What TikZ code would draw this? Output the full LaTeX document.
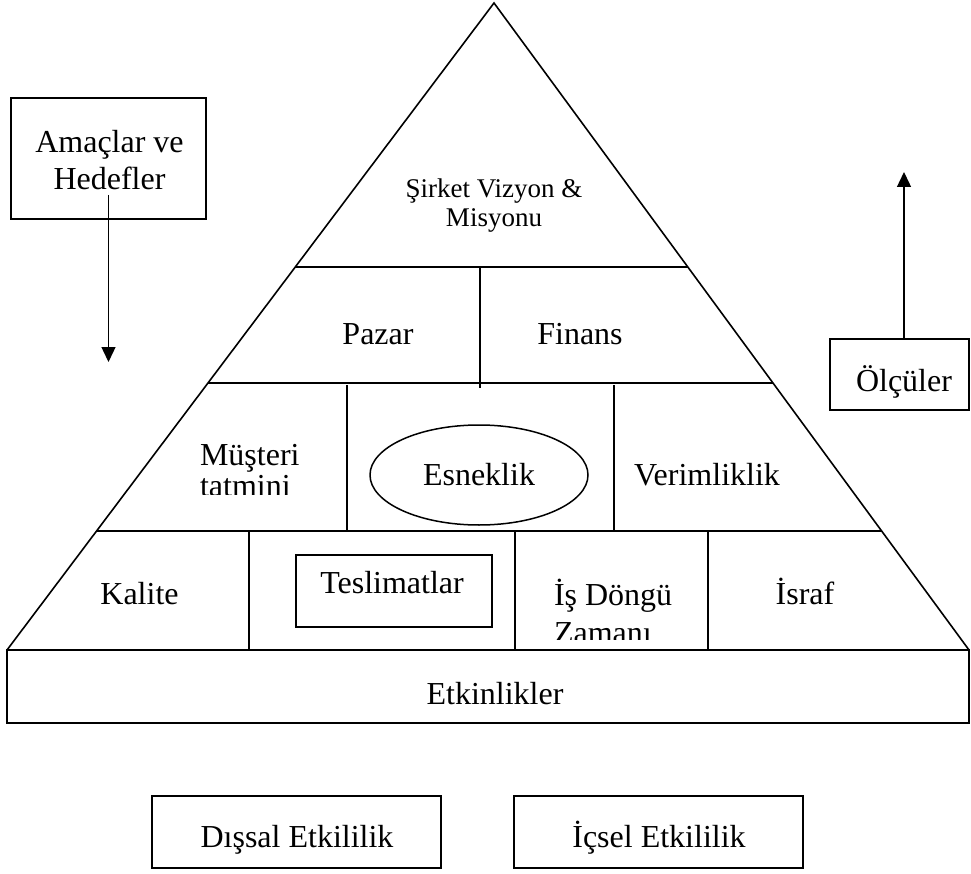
\documentclass[tikz,border=0pt]{standalone}
\usepackage{fontspec}
\setmainfont{Liberation Serif}
\usetikzlibrary{arrows.meta,calc,shapes.geometric}

\begin{document}
\begin{tikzpicture}[x=1pt,y=-1pt,
  every node/.style={inner sep=0pt, outer sep=0pt},
  txt/.style={font=\fontsize{32}{36}\selectfont},
  frame/.style={draw, line width=1.7pt},
  rule/.style={line width=2pt},
  post/.style={line width=1.4pt},
  side/.style={line width=1.6pt, line join=miter},
  flow/.style={line width=1.4pt, -{Triangle[length=15pt,width=14pt]}}
]
\useasboundingbox (0,0) rectangle (971,874);

% pyramid outline
\coordinate (apex) at (494,3);
\coordinate (bl) at (7,650);
\coordinate (br) at (969,650);
\draw[side] (bl) -- (apex) -- (br);

% horizontal dividers between the tiers
\draw[rule] ($(apex)!0.408!(bl)$) -- ($(apex)!0.408!(br)$);
\draw[rule] ($(apex)!0.5873!(bl)$) -- ($(apex)!0.5873!(br)$);
\draw[rule] ($(apex)!0.816!(bl)$) -- ($(apex)!0.816!(br)$);

% vertical dividers inside the tiers
\draw[post] (480,267) -- (480,388);
\draw[post] (347,385) -- (347,531);
\draw[post] (614,385) -- (614,531);
\draw[post] (249,531) -- (249,650);
\draw[post] (515,531) -- (515,650);
\draw[post] (708,531) -- (708,650);

% top tier (base anchor sits on the last line)
\node[font=\fontsize{27}{29.4}\selectfont, align=center, anchor=base] (vizyon) at (494,226.7) {Şirket Vizyon \&\\Misyonu};

% second tier
\node[txt, anchor=base] (pazar) at (378,344) {Pazar};
\node[txt, anchor=base] (finans) at (580,344) {Finans};

% third tier
\begin{scope}
  \clip (150,400) rectangle (345,494);
  \node[font=\fontsize{32}{30.8}\selectfont, align=left, anchor=base west] (musteri) at (200,496) {Müşteri\\tatmini};
\end{scope}
\node[txt, draw, line width=1.5pt, ellipse, minimum width=218pt, minimum height=100pt] (esnek) at (479,475) {Esneklik};
\node[txt, anchor=base] (verim) at (707,485) {Verimliklik};

% fourth tier
\node[txt, anchor=base] (kalite) at (139.5,604.5) {Kalite};
\node[frame, minimum width=196pt, minimum height=72pt] (teslim) at (394,591) {};
\node[txt, anchor=base] (teslimT) at (392,593) {Teslimatlar};
\begin{scope}
  \clip (520,560) rectangle (705,639);
  \node[font=\fontsize{32}{38.5}\selectfont, align=left, anchor=base west] (dongu) at (554,643.5) {İş Döngü\\Zamanı};
\end{scope}
\node[txt, anchor=base] (israf) at (805,604.5) {İsraf};

% base band
\node[frame, minimum width=962pt, minimum height=73pt] (etkin) at (488,686.5) {};
\node[txt, anchor=base] (etkinT) at (495,704) {Etkinlikler};

% goals box with downward arrow
\node[frame, minimum width=195pt, minimum height=121pt] (amac) at (108.5,158.5) {};
\node[font=\fontsize{32}{36.6}\selectfont, align=center, anchor=base] (amacT) at (109.5,189.3) {Amaçlar ve\\Hedefler};
\coordinate (downTip) at (108.5,362);
\draw[flow] ($(amac.south)+(0,-24)$) -- (downTip);

% measures box with upward arrow
\node[frame, minimum width=139pt, minimum height=71pt] (olcu) at (899.5,374.5) {};
\node[txt, anchor=base] (olcuT) at (904,391) {Ölçüler};
\coordinate (upTip) at (904,172);
\draw[flow] (olcu.north -| upTip) -- (upTip);

% effectiveness boxes
\node[frame, minimum width=289pt, minimum height=72pt] (dis) at (296.5,832) {};
\node[txt, anchor=base] (disT) at (297,847) {Dışsal Etkililik};
\node[frame, minimum width=289pt, minimum height=72pt] (ic) at (658.5,832) {};
\node[txt, anchor=base] (icT) at (659,847) {İçsel Etkililik};
\end{tikzpicture}
\end{document}
